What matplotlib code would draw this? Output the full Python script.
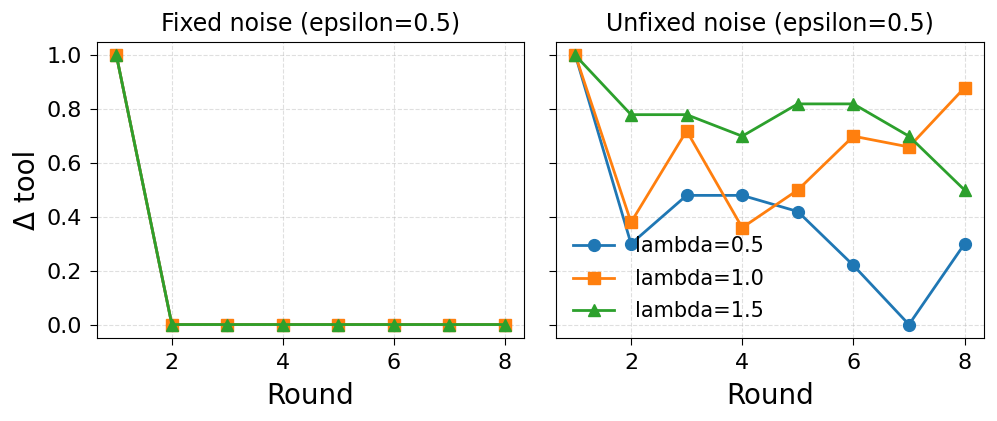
import matplotlib
matplotlib.use("Agg")
import matplotlib.pyplot as plt

rounds = [1, 2, 3, 4, 5, 6, 7, 8]
labels = ["lambda=0.5", "lambda=1.0", "lambda=1.5"]
fixed_l05 = [1.0, 0, 0, 0, 0, 0, 0, 0]
fixed_l10 = [1.0, 0, 0, 0, 0, 0, 0, 0]
fixed_l15 = [1.0, 0, 0, 0, 0, 0, 0, 0]
unfixed_l05 = [1.0, 0.30, 0.48, 0.48, 0.42, 0.22, 0.0, 0.30]
unfixed_l10 = [1.0, 0.38, 0.72, 0.36, 0.50, 0.70, 0.66, 0.88]
unfixed_l15 = [1.0, 0.78, 0.78, 0.70, 0.82, 0.82, 0.70, 0.50]

colors = ["#1f77b4", "#ff7f0e", "#2ca02c"]
markers = ["o", "s", "^"]

fig = plt.figure(figsize=(9.97, 4.21), dpi=100)
W, H = 997, 421
ax1 = fig.add_axes([97 / W, 1 - 338 / H, (524 - 97) / W, (338 - 42) / H])
ax2 = fig.add_axes([556 / W, 1 - 338 / H, (984 - 556) / W, (338 - 42) / H], sharey=ax1)

for ax, series, title in [
    (ax1, [fixed_l05, fixed_l10, fixed_l15], "Fixed noise (epsilon=0.5)"),
    (ax2, [unfixed_l05, unfixed_l10, unfixed_l15], "Unfixed noise (epsilon=0.5)"),
]:
    for s, c, m, lab in zip(series, colors, markers, labels):
        ax.plot(rounds, s, color=c, marker=m, markersize=8.5, linewidth=2, label=lab)
    ax.set_title(title, fontsize=17, pad=8)
    ax.set_xlabel("Round", fontsize=20, labelpad=6)
    ax.grid(True, linestyle="--", alpha=0.4)
    ax.tick_params(labelsize=16, length=5, pad=6)
    ax.set_xticks([2, 4, 6, 8])

ax1.set_ylabel("Δ tool", fontsize=20, labelpad=4)
ax1.set_ylim(-0.05, 1.05)
plt.setp(ax2.get_yticklabels(), visible=False)
ax2.legend(loc="lower left", fontsize=15, frameon=False, borderaxespad=0.4,
           labelspacing=0.6, handlelength=2.0, handletextpad=1.0)

fig.savefig("out.png", dpi=100)
